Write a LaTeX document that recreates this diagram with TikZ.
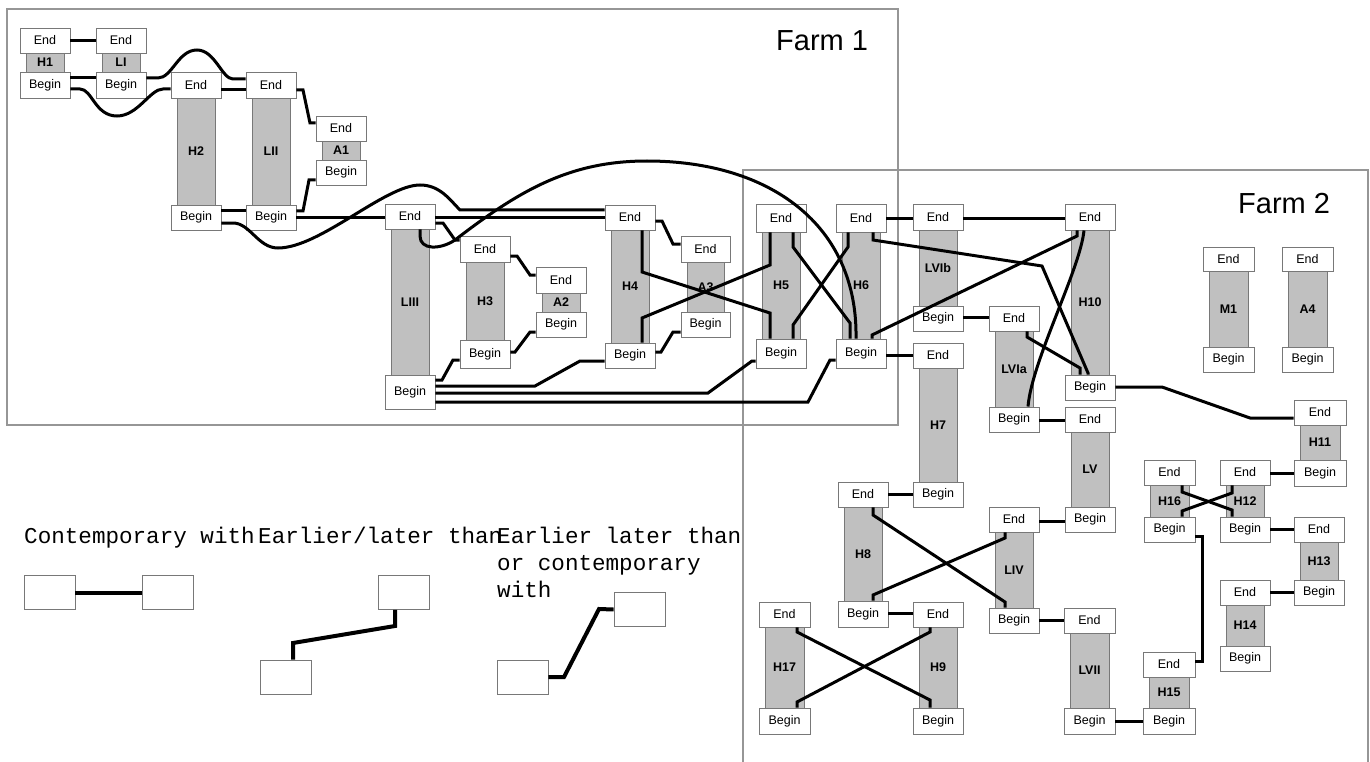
\documentclass[tikz,border=0pt]{standalone}
\usepackage{fontspec}
\newfontfamily\sansf{Liberation Sans}
\newfontfamily\monof{Liberation Mono}
\definecolor{boxgray}{RGB}{120,120,120}
\definecolor{bargray}{RGB}{192,192,192}
\definecolor{framegray}{RGB}{150,150,150}
\newcommand{\bxfont}{\sansf\fontsize{12.5}{13}\selectfont}
\newcommand{\lblfont}{\sansf\bfseries\fontsize{12.5}{13}\selectfont}
\newcommand{\lgfont}{\monof\fontsize{22.6}{26}\selectfont}
\newcommand{\farmfont}{\sansf\fontsize{29}{32}\selectfont}
\newcommand{\mkphase}[8]{%
  \pgfmathsetmacro\phxc{(#3+#4)/2}%
  \pgfmathsetmacro\phw{#4-#3}%
  \pgfmathsetmacro\phbw{#4-#3-12}%
  \pgfmathsetmacro\phye{(#5+#6)/2}%
  \pgfmathsetmacro\phhe{#6-#5}%
  \pgfmathsetmacro\phyr{(#6+#7)/2}%
  \pgfmathsetmacro\phhr{#7-#6}%
  \pgfmathsetmacro\phyb{(#7+#8)/2}%
  \pgfmathsetmacro\phhb{#8-#7}%
  \node[barst, minimum width=\phbw pt, minimum height=\phhr pt] (#1R) at (\phxc,\phyr) {#2};%
  \node[bx, minimum width=\phw pt, minimum height=\phhe pt] (#1E) at (\phxc,\phye) {End};%
  \node[bx, minimum width=\phw pt, minimum height=\phhb pt] (#1B) at (\phxc,\phyb) {Begin};%
}
\begin{document}
\begin{tikzpicture}[x=1pt,y=-1pt,
  bx/.style={draw=boxgray, fill=white, line width=0.9pt, inner sep=0pt, font=\bxfont},
  barst/.style={draw=boxgray, fill=bargray, line width=0.9pt, inner sep=0pt, font=\lblfont},
  con/.style={line width=3pt},
  lgcon/.style={line width=4pt},
  frame/.style={draw=framegray, line width=1.1pt},
  lgbox/.style={draw=boxgray, fill=white, line width=0.9pt, inner sep=0pt, minimum width=51pt, minimum height=34pt},
  lgtext/.style={font=\lgfont, inner sep=0pt, anchor=base west},
  farm/.style={font=\farmfont, inner sep=0pt, anchor=base west}]
\useasboundingbox (0,0) rectangle (1370,762);
% frames
\draw[frame] (7,9) rectangle (898,425);
\draw[frame] (743,762) -- (743,170) -- (1368,170) -- (1368,762);
\node[farm] (farm1) at (776,51) {Farm 1};
\node[farm] (farm2) at (1238,213) {Farm 2};
% phases
\mkphase{H1}{H1}{20}{70}{28}{53}{72}{98}
\mkphase{LI}{LI}{96}{146}{28}{53}{72}{98}
\mkphase{H2}{H2}{171}{221}{72}{98}{205}{230}
\mkphase{LII}{LII}{246}{296}{72}{98}{205}{230}
\mkphase{A1}{A1}{316}{366}{116}{141}{160}{185}
\mkphase{LIII}{LIII}{385}{435}{204}{229}{375}{409}
\mkphase{H3}{H3}{460}{510}{236}{262}{340}{368}
\mkphase{A2}{A2}{536}{586}{267}{293}{312}{337}
\mkphase{H4}{H4}{605}{655}{205}{230}{343}{368}
\mkphase{A3}{A3}{681}{730}{236}{262}{312}{337}
\mkphase{H5}{H5}{756}{806}{204}{232}{339}{368}
\mkphase{H6}{H6}{836}{886}{204}{232}{339}{368}
\mkphase{LVIb}{LVIb}{913}{963}{204}{230}{306}{331}
\mkphase{H10}{H10}{1065}{1115}{204}{230}{375}{400}
\mkphase{LVIa}{LVIa}{989}{1039}{306}{331}{407}{432}
\mkphase{H7}{H7}{913}{963}{343}{368}{482}{507}
\mkphase{LV}{LV}{1065}{1115}{407}{432}{507}{532}
\mkphase{H8}{H8}{838}{888}{482}{507}{601}{627}
\mkphase{LIV}{LIV}{989}{1039}{507}{532}{608}{633}
\mkphase{H9}{H9}{913}{963}{602}{627}{708}{734}
\mkphase{H17}{H17}{759}{810}{602}{627}{708}{734}
\mkphase{LVII}{LVII}{1064}{1115}{608}{633}{708}{734}
\mkphase{H15}{H15}{1143}{1195}{652}{677}{708}{734}
\mkphase{H16}{H16}{1144}{1195}{460}{485}{517}{542}
\mkphase{H12}{H12}{1220}{1270}{460}{485}{517}{542}
\mkphase{H11}{H11}{1294}{1346}{400}{425}{460}{486}
\mkphase{H13}{H13}{1294}{1344}{517}{542}{580}{605}
\mkphase{H14}{H14}{1220}{1270}{580}{605}{646}{671}
\mkphase{M1}{M1}{1203}{1254}{247}{271}{347}{372}
\mkphase{A4}{A4}{1282}{1333}{247}{271}{347}{372}
% connectors farm 1
\draw[con] (H1E) -- (LIE);
\draw[con] (H1B.east |- 0,78) -- (LIB.west |- 0,78);
\draw[con] (H1B.east |- 0,89) -- (80,89) .. controls (92,89) and (95,116) .. (117,116) .. controls (138,116) and (150,89) .. (163,89) -- (H2E.west |- 0,89);
\draw[con] (LIB.east |- 0,78) -- (158,78) .. controls (172,78) and (178,50) .. (197,50) .. controls (215,50) and (222,79) .. (233,79) -- (LIIE.west |- 0,79);
\draw[con] (H2E.east |- 0,90) -- (LIIE.west |- 0,90);
\draw[con] (LIIE.east |- 0,90) -- (303,90) -- (310,123) -- (A1E.west |- 0,123);
\draw[con] (LIIB.east |- 0,211) -- (303,211) -- (309,180) -- (A1B.west |- 0,180);
\draw[con] (H2B.east |- 0,211) -- (LIIB.west |- 0,211);
\draw[con] (H2B.east |- 0,223) -- (233,223) .. controls (250,223) and (258,248) .. (278,248) .. controls (320,248) and (385,185) .. (420,185) .. controls (440,185) and (450,200) .. (460,210) -- (H4E.west |- 0,210);
\draw[con] (LIIB.east |- 0,217) -- (LIIIE.west |- 0,217);
\draw[con] (LIIIE.east |- 0,217) -- (H4E.west |- 0,217);
\draw[con] (LIIIE.east |- 0,223) -- (443,223) -- (455,240) -- (H3E.west |- 0,240);
\draw[con] (LIIIE.south -| 420,0) -- (420,236) .. controls (420,250) and (440,250) .. (455,240) .. controls (520,190) and (570,161) .. (647,161) .. controls (770,161) and (858,225) .. (H6B.north -| 856,0);
\draw[con] (H3E.east |- 0,256) -- (517,256) -- (530,275) -- (A2E.west |- 0,275);
\draw[con] (H3B.east |- 0,352) -- (515,352) -- (530,332) -- (A2B.west |- 0,332);
\draw[con] (LIIIB.east |- 0,380) -- (442,380) -- (453,360) -- (H3B.west |- 0,360);
\draw[con] (LIIIB.east |- 0,386) -- (535,386) -- (580,361) -- (H4B.west |- 0,361);
\draw[con] (LIIIB.east |- 0,393) -- (708,393) -- (752,361) -- (H5B.west |- 0,361);
\draw[con] (LIIIB.east |- 0,402) -- (808,402) -- (830,360) -- (H6B.west |- 0,360);
\draw[con] (H4E.east |- 0,221) -- (662,221) -- (673,244) -- (A3E.west |- 0,244);
\draw[con] (H4B.east |- 0,352) -- (661,352) -- (673,332) -- (A3B.west |- 0,332);
\draw[con] (H4E.south -| 642,0) -- (642,272) -- (770,313) -- (H5B.north -| 770,0);
\draw[con] (H4B.north -| 642,0) -- (642,318) -- (770,265) -- (H5E.south -| 770,0);
\draw[con] (H5E.south -| 793,0) -- (793,247) -- (850,323) -- (H6B.north -| 850,0);
\draw[con] (H5B.north -| 793,0) -- (793,325) -- (848,247) -- (H6E.south -| 848,0);
% connectors farm 2
\draw[con] (H6E.east |- 0,218) -- (LVIbE.west |- 0,218);
\draw[con] (LVIbE.east |- 0,218) -- (H10E.west |- 0,218);
\draw[con] (H6E.south -| 873,0) -- (873,240) -- (1042,266) -- (1088,373) -- (H10B.north -| 1088,0);
\draw[con] (H6B.north -| 872,0) -- (872,335) -- (1077,236) -- (H10E.south -| 1077,0);
\draw[con] (H6B.east |- 0,355) -- (H7E.west |- 0,355);
\draw[con] (LVIbB.east |- 0,317) -- (LVIaE.west |- 0,317);
\draw[con] (H10E.south -| 1084,0) .. controls (1080,270) and (1032,360) .. (LVIaB.north -| 1028,0);
\draw[con] (LVIaE.south -| 1027,0) -- (1027,337) -- (1080,368) -- (H10B.north -| 1080,0);
\draw[con] (H10B.east |- 0,387) -- (1162,387) -- (1250,418) -- (H11E.west |- 0,418);
\draw[con] (LVIaB.east |- 0,420) -- (LVE.west |- 0,420);
\draw[con] (H8E.east |- 0,494) -- (H7B.west |- 0,494);
\draw[con] (LIVE.east |- 0,521) -- (LVB.west |- 0,521);
\draw[con] (H8E.south -| 873,0) -- (873,515) -- (1005,602) -- (LIVB.north -| 1005,0);
\draw[con] (H8B.north -| 873,0) -- (873,595) -- (1005,538) -- (LIVE.south -| 1005,0);
\draw[con] (H8B.east |- 0,613) -- (H9E.west |- 0,613);
\draw[con] (LIVB.east |- 0,620) -- (LVIIE.west |- 0,620);
\draw[con] (H17E.south -| 797,0) -- (797,632) -- (930,700) -- (H9B.north -| 930,0);
\draw[con] (H9E.south -| 930,0) -- (930,632) -- (797,702) -- (H17B.north -| 797,0);
\draw[con] (LVIIB.east |- 0,721) -- (H15B.west |- 0,721);
\draw[con] (H16B.east |- 0,536) -- (1202,536) -- (1202,661) -- (H15E.east |- 0,661);
\draw[con] (H16E.south -| 1182,0) -- (1182,492) -- (1232,510) -- (H12B.north -| 1232,0);
\draw[con] (H16B.north -| 1182,0) -- (1182,511) -- (1232,493) -- (H12E.south -| 1232,0);
\draw[con] (H12E.east |- 0,473) -- (H11B.west |- 0,473);
\draw[con] (H12B.east |- 0,529) -- (H13E.west |- 0,529);
\draw[con] (H14E.east |- 0,592) -- (H13B.west |- 0,592);
% legend
\node[lgtext] (t1) at (24,543) {Contemporary with};
\node[lgtext] (t2) at (258,543) {Earlier/later than};
\node[lgtext] (t3a) at (497,543) {Earlier later than};
\node[lgtext] (t3b) at (497,570) {or contemporary};
\node[lgtext] (t3c) at (497,597) {with};
\node[lgbox] (lg1) at (49.5,592.5) {};
\node[lgbox] (lg2) at (167.5,592.5) {};
\node[lgbox] (lg3) at (403.5,592.5) {};
\node[lgbox] (lg4) at (285.5,677) {};
\node[lgbox] (lg5) at (639.5,609.5) {};
\node[lgbox] (lg6) at (522.5,677) {};
\draw[lgcon] (lg1) -- (lg2);
\draw[lgcon] (lg3.south -| 395,0) -- (395,626) -- (293,643) -- (lg4.north -| 293,0);
\draw[lgcon] (lg6.east) -- (564,677) -- (599,609) -- (lg5.west);
\end{tikzpicture}
\end{document}
